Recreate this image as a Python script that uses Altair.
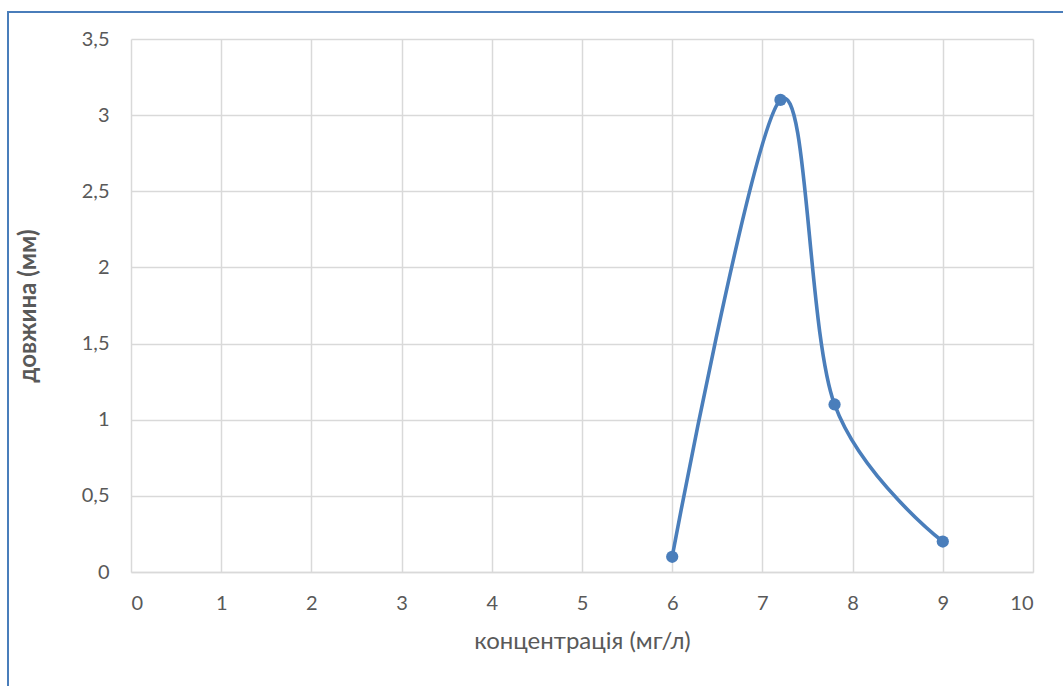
import altair as alt
import pandas as pd

# measured lengths at each concentration
concentration = [6, 7.2, 7.8, 9]
length_mm = [0.1, 3.1, 1.1, 0.2]

x_ticks = list(range(0, 11))
y_ticks = [0, 0.5, 1, 1.5, 2, 2.5, 3, 3.5]

df = pd.DataFrame({"conc": concentration, "len": length_mm})

BLUE = "#4a7ebb"
GRID = "#d9d9d9"
TEXT = "#595959"
FONT = "Lato"

comma_fmt = "replace(format(datum.value, ''), '.', ',')"

x_enc = alt.X(
    "conc:Q",
    title="концентрація (мг/л)",
    scale=alt.Scale(domain=[0, 10], nice=False),
    axis=alt.Axis(values=x_ticks, labelExpr=comma_fmt, grid=True, ticks=False,
                  labelPadding=21, titlePadding=16, titleFontWeight="normal"),
)
y_enc = alt.Y(
    "len:Q",
    title="довжина (мм)",
    scale=alt.Scale(domain=[0, 3.5], nice=False),
    axis=alt.Axis(values=y_ticks, labelExpr=comma_fmt, grid=True, ticks=False,
                  labelPadding=22, titlePadding=41, titleFontWeight="bold"),
)

curve = alt.Chart(df).mark_line(
    interpolate="cardinal", color=BLUE, strokeWidth=3.6
).encode(x=x_enc, y=y_enc)

dots = alt.Chart(df).mark_circle(size=150, color=BLUE, opacity=1).encode(
    x="conc:Q", y="len:Q"
)

# outer frame around the chart area
frame = alt.Chart(df).mark_rect(
    fill=None, stroke=BLUE, strokeWidth=1.6
).encode(
    x=alt.value(-123), x2=alt.value(1000),
    y=alt.value(-27), y2=alt.value(700),
)

chart = alt.layer(frame, curve, dots).properties(
    width=902, height=533,
    background="white",
    autosize=alt.AutoSizeParams(type="none"),
    padding={"left": 131, "top": 39, "right": 30, "bottom": 114},
).configure_view(stroke=None).configure_axis(
    gridColor=GRID, gridWidth=1.5, domainColor=GRID, domainWidth=1.5,
    labelColor=TEXT, titleColor=TEXT, labelFont=FONT, titleFont=FONT,
    labelFontSize=20, titleFontSize=24,
).configure_axisY(domain=False)

chart.save("out.html", embed_options={"renderer": "svg", "actions": False})
